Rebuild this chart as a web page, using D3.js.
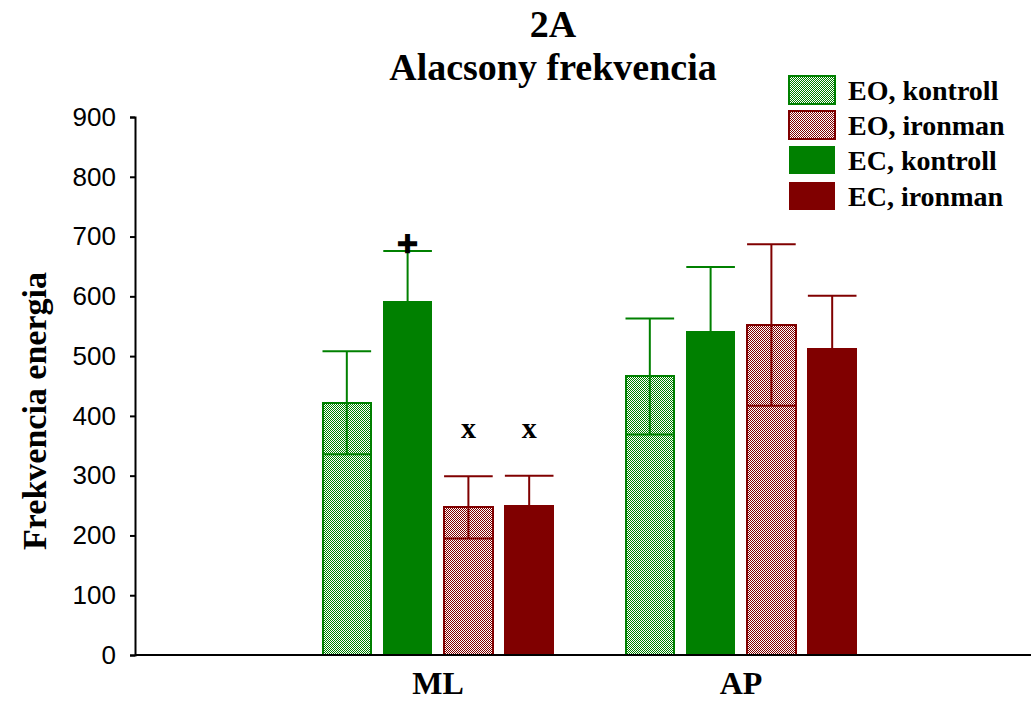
<!DOCTYPE html>
<html>
<head>
<meta charset="utf-8">
<script src="https://cdn.jsdelivr.net/npm/d3@7"></script>
<style>
  html, body { margin: 0; padding: 0; background: #fff; }
  svg { display: block; }
</style>
</head>
<body>
<svg id="chart" width="1034" height="702"></svg>
<script>
// Groups on the x axis and the four series
const categories = ["ML", "AP"];
const seriesNames = ["EO, kontroll", "EO, ironman", "EC, kontroll", "EC, ironman"];
// Bar order within each group (left to right)
const barOrder = ["EO, kontroll", "EC, kontroll", "EO, ironman", "EC, ironman"];

// Means and standard deviations per series, in category order [ML, AP]
const eoKontroll = [422, 466];
const ecKontroll = [592, 542];
const eoIronman = [247, 552];
const ecIronman = [250, 512];
const eoKontrollSD = [86, 97];
const ecKontrollSD = [84, 107];
const eoIronmanSD = [52, 135];
const ecIronmanSD = [50, 89];

const yTicks = [0, 100, 200, 300, 400, 500, 600, 700, 800, 900];

// Significance markers: [category, series, symbol]
const markers = [
  ["ML", "EC, kontroll", "+"],
  ["ML", "EO, ironman", "x"],
  ["ML", "EC, ironman", "x"]
];

const values = {
  "EO, kontroll": eoKontroll,
  "EC, kontroll": ecKontroll,
  "EO, ironman": eoIronman,
  "EC, ironman": ecIronman
};
const sds = {
  "EO, kontroll": eoKontrollSD,
  "EC, kontroll": ecKontrollSD,
  "EO, ironman": eoIronmanSD,
  "EC, ironman": ecIronmanSD
};

const GREEN = "#008000", RED = "#800000";
const style = {
  "EO, kontroll": { color: GREEN, pattern: true },
  "EO, ironman": { color: RED, pattern: true },
  "EC, kontroll": { color: GREEN, pattern: false },
  "EC, ironman": { color: RED, pattern: false }
};

const svg = d3.select("#chart");
const serif = "'Liberation Serif', 'Times New Roman', serif";
const sans = "'Liberation Sans', Arial, sans-serif";

// Fine checker fills for the open-eye series
const defs = svg.append("defs");
function checker(id, color) {
  const p = defs.append("pattern")
    .attr("id", id).attr("patternUnits", "userSpaceOnUse")
    .attr("width", 2).attr("height", 2);
  p.append("rect").attr("width", 2).attr("height", 2).attr("fill", "#fff")
    .attr("shape-rendering", "crispEdges");
  p.append("rect").attr("x", 0).attr("y", 0).attr("width", 1).attr("height", 1).attr("fill", color)
    .attr("shape-rendering", "crispEdges");
  p.append("rect").attr("x", 1).attr("y", 1).attr("width", 1).attr("height", 1).attr("fill", color)
    .attr("shape-rendering", "crispEdges");
}
checker("chk-green", GREEN);
checker("chk-red", RED);
function fillFor(name) {
  const s = style[name];
  if (!s.pattern) return s.color;
  return s.color === GREEN ? "url(#chk-green)" : "url(#chk-red)";
}

const x0 = 135, y0 = 655, yTop = 117;
const x = d3.scalePoint().domain(categories).range([x0, 1044]).padding(1);
const xb = d3.scaleBand().domain(barOrder).range([-115.5, 115.5]).paddingInner(0.2).paddingOuter(0);
const y = d3.scaleLinear().domain([0, 900]).range([y0, yTop]);

// Bars, error bars
categories.forEach((cat, ci) => {
  barOrder.forEach(name => {
    const v = values[name][ci], sd = sds[name][ci];
    const bx = x(cat) + xb(name), bw = xb.bandwidth();
    const cx = bx + bw / 2;
    const s = style[name];
    const g = svg.append("g");
    g.append("rect")
      .attr("x", bx).attr("y", y(v))
      .attr("width", bw).attr("height", y(0) - y(v))
      .attr("fill", fillFor(name))
      .attr("stroke", s.color).attr("stroke-width", s.pattern ? 2 : 1)
      .attr("shape-rendering", "crispEdges");
    // vertical whisker spanning mean ± SD
    g.append("line")
      .attr("x1", cx).attr("x2", cx)
      .attr("y1", y(v + sd)).attr("y2", y(v - sd))
      .attr("stroke", s.color).attr("stroke-width", 2);
    [v + sd, v - sd].forEach(e => {
      g.append("line")
        .attr("x1", bx).attr("x2", bx + bw)
        .attr("y1", y(e)).attr("y2", y(e))
        .attr("stroke", s.color).attr("stroke-width", 2);
    });
  });
});

// Significance markers
markers.forEach(([cat, name, sym]) => {
  const ci = categories.indexOf(cat);
  const cx = x(cat) + xb(name) + xb.bandwidth() / 2;
  const top = values[name][ci] + sds[name][ci];
  const t = svg.append("text")
    .attr("x", cx)
    .attr("y", sym === "+" ? y(top) + 5 : y(top) - 38)
    .attr("text-anchor", "middle")
    .style("font-family", serif).style("font-weight", "bold")
    .style("font-size", sym === "+" ? "36px" : "30px")
    .text(sym);
  if (sym === "+") t.attr("stroke", "#000").attr("stroke-width", 2.4);
});

// Y axis
const yAxis = d3.axisLeft(y).tickValues(yTicks).tickSize(5).tickSizeOuter(5).tickPadding(14);
const ya = svg.append("g").attr("transform", `translate(${x0},0)`).call(yAxis);
ya.select(".domain").attr("stroke", "#000").attr("stroke-width", 2);
ya.selectAll(".tick line").attr("stroke", "#000").attr("stroke-width", 2);
ya.selectAll(".tick text").style("font-family", sans).style("font-size", "26px").attr("fill", "#000");

// X axis baseline
svg.append("line")
  .attr("x1", x0).attr("x2", 1031).attr("y1", y0).attr("y2", y0)
  .attr("stroke", "#000").attr("stroke-width", 2);

// Category labels
svg.selectAll("text.cat").data(categories).enter().append("text")
  .attr("class", "cat")
  .attr("x", d => x(d)).attr("y", 694)
  .attr("text-anchor", "middle")
  .style("font-family", serif).style("font-weight", "bold").style("font-size", "32px")
  .text(d => d);

// Titles
svg.append("text").attr("x", 553).attr("y", 37).attr("text-anchor", "middle")
  .style("font-family", serif).style("font-weight", "bold").style("font-size", "38px").text("2A");
svg.append("text").attr("x", 553).attr("y", 80).attr("text-anchor", "middle")
  .style("font-family", serif).style("font-weight", "bold").style("font-size", "38px").text("Alacsony frekvencia");

// Y axis title
svg.append("text")
  .attr("transform", "translate(46,411) rotate(-90)")
  .attr("text-anchor", "middle")
  .style("font-family", serif).style("font-weight", "bold").style("font-size", "34px")
  .text("Frekvencia energia");

// Legend
const legend = svg.append("g").attr("transform", "translate(789,76)");
seriesNames.forEach((name, i) => {
  const s = style[name];
  const row = legend.append("g").attr("transform", `translate(0,${Math.round(i * 35.2)})`);
  row.append("rect").attr("width", 46).attr("height", 28)
    .attr("fill", fillFor(name))
    .attr("stroke", s.color).attr("stroke-width", s.pattern ? 2 : 0)
    .attr("shape-rendering", "crispEdges");
  row.append("text").attr("x", 59).attr("y", 24)
    .style("font-family", serif).style("font-weight", "bold").style("font-size", "28px")
    .text(name);
});
</script>
</body>
</html>
